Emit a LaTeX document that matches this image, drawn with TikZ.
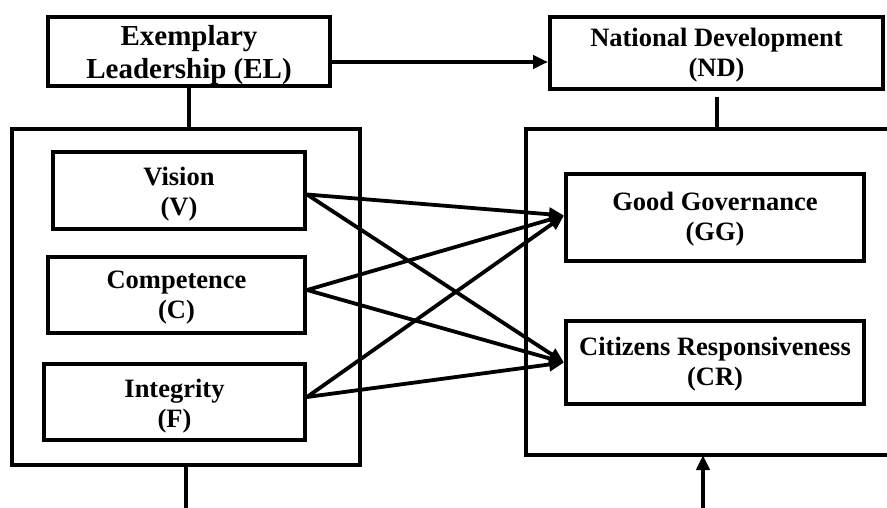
\documentclass[tikz,border=0pt]{standalone}
\usepackage{fontspec}
\setmainfont{Liberation Serif}
\usetikzlibrary{arrows.meta}
\begin{document}
\begin{tikzpicture}[x=1pt,y=-1pt,
  box/.style={draw,line width=4pt,rectangle,inner sep=0pt},
  txt/.style={align=center,inner sep=0pt,font=\bfseries\fontsize{26.5}{30}\selectfont},
  conn/.style={line width=4pt},
  arr/.style={line width=3.8pt,-{Triangle[length=15pt,width=13pt]}}]
\useasboundingbox (0,0) rectangle (887,508);
\node[box,minimum width=282pt,minimum height=69pt] (EL) at (189,51.5) {};
\node[txt,font=\bfseries\fontsize{29}{33}\selectfont] (ELt) at ([yshift=-4pt]EL.center) {Exemplary\\Leadership (EL)};
\node[box,minimum width=333pt,minimum height=72pt] (ND) at (716.5,53) {};
\node[txt] (NDt) at ([yshift=-2pt]ND.center) {National Development\\(ND)};
\node[box,minimum width=348pt,minimum height=336pt] (LB) at (186,297) {};
\node[box,minimum width=252pt,minimum height=77pt] (V) at (179,190.5) {};
\node[txt] (Vt) at ([yshift=-4pt]V.center) {Vision\\(V)};
\node[box,minimum width=257pt,minimum height=76pt] (C) at (176.5,295) {};
\node[txt] (Ct) at ([yshift=-3pt]C.center) {Competence\\(C)};
\node[box,minimum width=261pt,minimum height=76pt] (I) at (174.5,402) {};
\node[txt] (It) at ([yshift=-4pt]I.center) {Integrity\\(F)};
\coordinate (RBtl) at (526,129);
\coordinate (RBtr) at (890,129);
\coordinate (RBbl) at (526,455);
\coordinate (RBbr) at (890,455);
\draw[conn] (RBtr) -- (RBtl) -- (RBbl) -- (RBbr);
\node[box,minimum width=298pt,minimum height=87pt] (GG) at (715,217.5) {};
\node[txt] (GGt) at ([yshift=-2pt]GG.center) {Good Governance\\(GG)};
\node[box,minimum width=298pt,minimum height=83pt] (CR) at (715,362.5) {};
\node[txt] (CRt) at ([yshift=-2pt]CR.center) {Citizens Responsiveness\\(CR)};
% connectors
\draw[arr] (EL.east |- 0,62) -- (ND.west |- 0,62);
\draw[conn] (EL.south) -- (EL.south |- LB.north);
\draw[conn] ([yshift=-6pt]ND.south) -- (ND.south |- RBtl);
\coordinate (botL) at (186,508);
\draw[conn] (LB.south) -- (botL);
\coordinate (botR) at (703,508);
\draw[arr] (botR) -- (botR |- RBbl);
\draw[arr] ([yshift=-4pt]V.east) -- ([yshift=2pt]GG.west);
\draw[arr] ([yshift=-4pt]V.east) -- (CR.west);
\draw[arr] ([yshift=5pt]C.east) -- ([yshift=2pt]GG.west);
\draw[arr] ([yshift=5pt]C.east) -- (CR.west);
\draw[arr] ([yshift=5pt]I.east) -- ([yshift=2pt]GG.west);
\draw[arr] ([yshift=5pt]I.east) -- (CR.west);
\end{tikzpicture}
\end{document}
